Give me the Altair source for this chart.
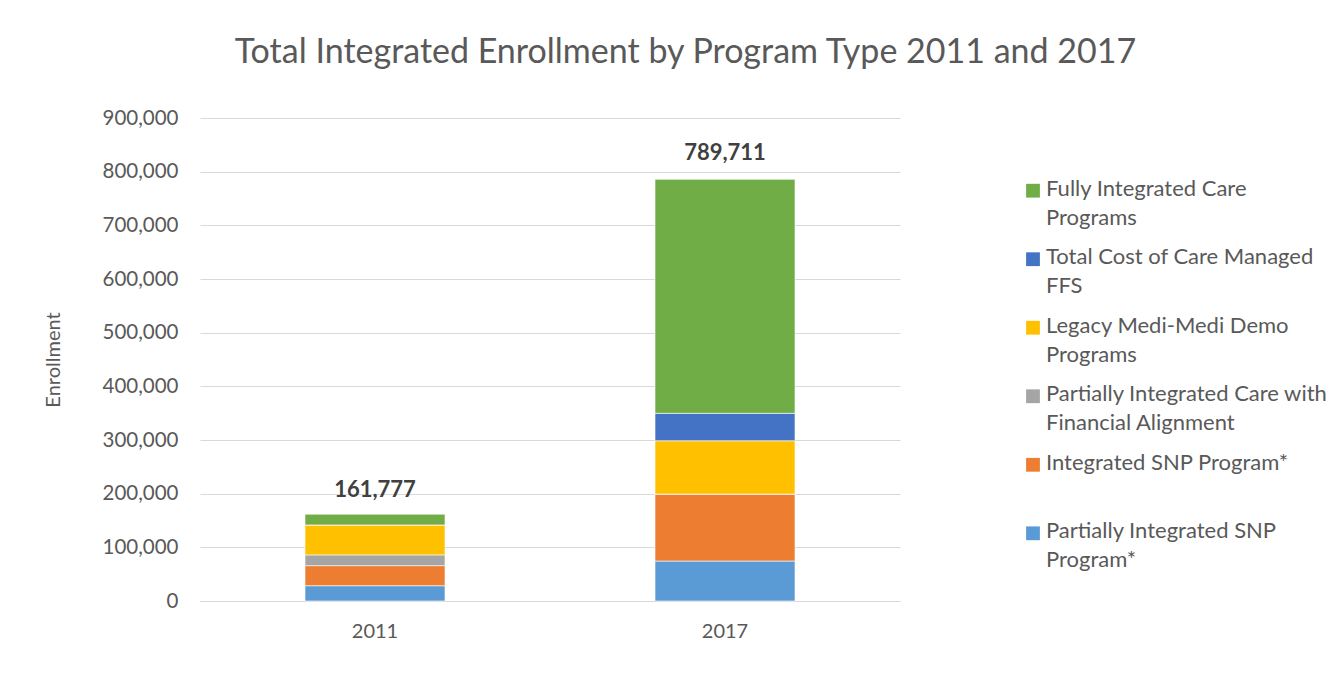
import altair as alt
import pandas as pd

years = ["2011", "2017"]
series = [
    "Partially Integrated SNP Program*",
    "Integrated SNP Program*",
    "Partially Integrated Care with Financial Alignment",
    "Legacy Medi-Medi Demo Programs",
    "Total Cost of Care Managed FFS",
    "Fully Integrated Care Programs",
]
legend_labels = [
    "Partially Integrated SNP\nProgram*",
    "Integrated SNP Program*",
    "Partially Integrated Care with\nFinancial Alignment",
    "Legacy Medi-Medi Demo\nPrograms",
    "Total Cost of Care Managed\nFFS",
    "Fully Integrated Care\nPrograms",
]
colors = ["#5B9BD5", "#ED7D31", "#A5A5A5", "#FFC000", "#4472C4", "#70AD47"]
values_2011 = [28500, 37400, 20000, 55900, 0, 19977]
values_2017 = [74500, 124800, 0, 99300, 51100, 436000]
totals = [161777, 789711]
total_labels = ["161,777", "789,711"]

FONT = "Lato"
GREY = "#595959"

rows = []
for yr, vals in zip(years, [values_2011, values_2017]):
    for i, (s, v) in enumerate(zip(series, vals)):
        rows.append({"year": yr, "series": s, "idx": i, "value": v})
df = pd.DataFrame(rows)
tdf = pd.DataFrame({"year": years, "total": totals, "label": total_labels})
ldf = pd.DataFrame({"series": series, "label": legend_labels})

bars = alt.Chart(df).mark_bar(size=140, stroke="white", strokeWidth=0.6).encode(
    x=alt.X("year:N", title=None, sort=years,
            scale=alt.Scale(paddingInner=0, paddingOuter=0),
            axis=alt.Axis(labelAngle=0, ticks=False, labelFontSize=20, labelColor=GREY,
                          labelFont=FONT, labelPadding=20, domainColor="#d9d9d9", grid=False)),
    y=alt.Y("value:Q", stack="zero", title="Enrollment",
            scale=alt.Scale(domain=[0, 900000], nice=False),
            axis=alt.Axis(values=list(range(0, 900001, 100000)), format=",d", ticks=False,
                          domain=False, gridColor="#d9d9d9", labelFontSize=20.5, labelColor=GREY,
                          labelFont=FONT, labelPadding=22, titleFont=FONT, titleFontSize=20,
                          titleColor=GREY, titleFontWeight="normal", titlePadding=39)),
    color=alt.Color("series:N", scale=alt.Scale(domain=series, range=colors), legend=None),
    order=alt.Order("idx:Q", sort="ascending"),
)

labels = alt.Chart(tdf).mark_text(dy=-24, fontWeight="bold", fontSize=22, color="#404040",
                                  font=FONT).encode(
    x=alt.X("year:N", sort=years),
    y=alt.Y("total:Q"),
    text="label:N",
)

main = alt.layer(bars, labels).properties(width=700, height=483)

ly = alt.Y("series:N", axis=None,
           scale=alt.Scale(type="point", domain=series[::-1], range=[72.7, 415.3], padding=0))
lsq = alt.Chart(ldf).mark_square(size=190, opacity=1).encode(
    y=ly, x=alt.value(13),
    color=alt.Color("series:N", scale=alt.Scale(domain=series, range=colors), legend=None),
)
ltx = alt.Chart(ldf).mark_text(align="left", baseline="top", dx=13, dy=-12, lineBreak="\n",
                               fontSize=22, lineHeight=29, color=GREY, font=FONT).encode(
    y=ly, x=alt.value(13), text="label:N",
)
legend = alt.layer(lsq, ltx).properties(width=290, height=483)

chart = alt.hconcat(main, legend, spacing=120).properties(
    title=alt.TitleParams("Total Integrated Enrollment by Program Type 2011 and 2017",
                          fontSize=34, color=GREY, font=FONT, fontWeight="normal",
                          anchor="middle", offset=38),
    padding={"left": 35, "top": 28, "right": 5, "bottom": 5},
).configure_view(stroke=None)

chart.save("out.html", embed_options={"renderer": "svg", "actions": False})
